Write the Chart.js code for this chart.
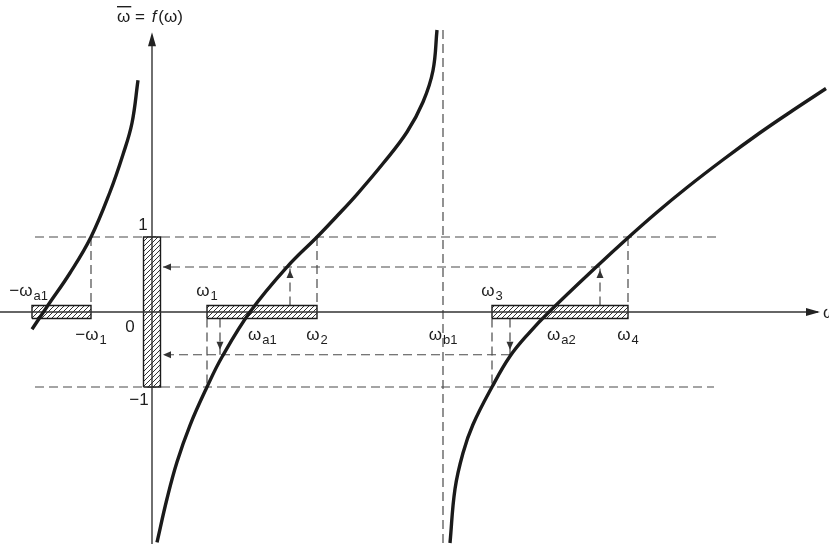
<!DOCTYPE html>
<html>
<head>
<meta charset="utf-8">
<script src="https://cdn.jsdelivr.net/npm/chart.js@4.4.0/dist/chart.umd.min.js"></script>
<style>
  body { margin: 0; background: #fff; }
  canvas { display: block; }
</style>
</head>
<body>
<canvas id="mapping-chart" width="829" height="544"></canvas>
<script>
// curve samples: omega -> f(omega)
const curveLeftW = [-1.20, -1.04, -0.82, -0.61, -0.42, -0.29, -0.20, -0.14];
const curveLeftF = [-0.23, 0.09, 0.52, 1.00, 1.60, 2.10, 2.52, 3.09];
const curveMidW = [0.05, 0.15, 0.25, 0.38, 0.55, 0.70, 0.98, 1.35, 1.65, 1.85, 2.05, 2.31, 2.55, 2.71, 2.81, 2.85];
const curveMidF = [-3.07, -2.49, -2.00, -1.51, -1.00, -0.60, 0.00, 0.60, 1.00, 1.28, 1.57, 1.98, 2.40, 2.80, 3.22, 3.76];
const curveRightW = [2.98, 3.03, 3.11, 3.21, 3.40, 3.58, 3.77, 3.97, 4.45, 4.76, 5.05, 5.35, 5.71, 6.08, 6.41, 6.74];
const curveRightF = [-3.08, -2.36, -1.88, -1.50, -1.00, -0.59, -0.28, 0.00, 0.61, 0.99, 1.33, 1.66, 2.03, 2.39, 2.69, 2.98];

// pass bands on the omega axis, and the band they map onto
const bandLeft = [-1.20, -0.61];
const bandMid = [0.55, 1.65];
const bandRight = [3.40, 4.76];
const bandImage = [-1, 1];

// special frequencies
const poleB1 = 2.91;
const levelLines = [1, -1];

// two traced mappings: band point -> curve -> f axis
const traceUpW = [1.38, 4.48];
const traceUpLevel = 0.60;
const traceDownW = [0.68, 3.58];
const traceDownLevel = -0.57;

// omega axis labels: text, subscript, omega position
const labelText = ['−ω', '−ω', 'ω', 'ω', 'ω', 'ω', 'ω', 'ω', 'ω'];
const labelSub = ['a1', '1', '1', 'a1', '2', 'b1', '3', 'a2', '4'];
const labelW = [-1.06, -0.61, 0.55, 0.98, 1.65, 2.91, 3.40, 3.97, 4.76];
const labelAbove = [true, false, true, false, false, false, true, false, false];

const X_MIN = -1.52, X_MAX = 6.77, Y_MIN = -3.093, Y_MAX = 4.16;
const INK = '#1a1a1a';
const DASH = '#4a4a4a';
const BAR_H = 0.087;   // half height of the hatched bars
const BAR_W = 0.085;   // half width of the vertical bar
const FONT = '"Liberation Sans", Arial, sans-serif';

function pts(xs, ys) {
    return xs.map((x, i) => ({ x: x, y: ys[i] }));
}

function hatch() {
    const c = document.createElement('canvas');
    c.width = 5; c.height = 5;
    const g = c.getContext('2d');
    g.fillStyle = '#fff';
    g.fillRect(0, 0, 5, 5);
    g.strokeStyle = '#333';
    g.lineWidth = 1;
    g.beginPath();
    g.moveTo(-1, 6); g.lineTo(6, -1);
    g.moveTo(-1, 1); g.lineTo(1, -1);
    g.moveTo(4, 6); g.lineTo(6, 4);
    g.stroke();
    return g.createPattern(c, 'repeat');
}
const pattern = hatch();

function curve(xs, ys) {
    return {
        data: pts(xs, ys), borderColor: INK, borderWidth: 3.4,
        tension: 0.4, order: 1
    };
}

function dashed(a, b) {
    return {
        data: [a, b], borderColor: DASH, borderWidth: 1.2,
        borderDash: [9, 5], order: 4
    };
}

function rect(x0, x1, y0, y1) {
    return {
        data: [{ x: x0, y: y0 }, { x: x1, y: y0 }, { x: x1, y: y1 }, { x: x0, y: y1 }, { x: x0, y: y0 }],
        borderColor: INK, borderWidth: 1.4, backgroundColor: pattern,
        fill: 'shape', order: 3
    };
}

const datasets = [
    curve(curveLeftW, curveLeftF),
    curve(curveMidW, curveMidF),
    curve(curveRightW, curveRightF),
    // axes
    { data: [{ x: X_MIN, y: 0 }, { x: 6.66, y: 0 }], borderColor: '#333', borderWidth: 1.4, order: 2 },
    { data: [{ x: 0, y: Y_MIN }, { x: 0, y: 3.66 }], borderColor: '#333', borderWidth: 1.4, order: 2 },
    // hatched bands
    rect(bandLeft[0], bandLeft[1], -BAR_H, BAR_H),
    rect(bandMid[0], bandMid[1], -BAR_H, BAR_H),
    rect(bandRight[0], bandRight[1], -BAR_H, BAR_H),
    rect(-BAR_W, BAR_W, bandImage[0], bandImage[1]),
    // level lines and pole
    dashed({ x: -1.17, y: levelLines[0] }, { x: 5.64, y: levelLines[0] }),
    dashed({ x: -1.17, y: levelLines[1] }, { x: 5.62, y: levelLines[1] }),
    dashed({ x: poleB1, y: 3.76 }, { x: poleB1, y: Y_MIN }),
    // band edges to the curve
    dashed({ x: bandLeft[1], y: levelLines[0] }, { x: bandLeft[1], y: BAR_H }),
    dashed({ x: bandMid[1], y: levelLines[0] }, { x: bandMid[1], y: BAR_H }),
    dashed({ x: bandRight[1], y: levelLines[0] }, { x: bandRight[1], y: BAR_H }),
    dashed({ x: bandMid[0], y: -BAR_H }, { x: bandMid[0], y: levelLines[1] }),
    dashed({ x: bandRight[0], y: -BAR_H }, { x: bandRight[0], y: levelLines[1] }),
    // traced mappings
    dashed({ x: traceUpW[1], y: traceUpLevel }, { x: 0.11, y: traceUpLevel }),
    dashed({ x: traceUpW[0], y: BAR_H }, { x: traceUpW[0], y: traceUpLevel }),
    dashed({ x: traceUpW[1], y: BAR_H }, { x: traceUpW[1], y: traceUpLevel }),
    dashed({ x: traceDownW[1], y: traceDownLevel }, { x: 0.11, y: traceDownLevel }),
    dashed({ x: traceDownW[0], y: -BAR_H }, { x: traceDownW[0], y: traceDownLevel }),
    dashed({ x: traceDownW[1], y: -BAR_H }, { x: traceDownW[1], y: traceDownLevel })
];

function arrow(ctx, x, y, dir, len, half) {
    ctx.beginPath();
    ctx.moveTo(x, y);
    if (dir === 'up') { ctx.lineTo(x - half, y + len); ctx.lineTo(x + half, y + len); }
    if (dir === 'down') { ctx.lineTo(x - half, y - len); ctx.lineTo(x + half, y - len); }
    if (dir === 'left') { ctx.lineTo(x + len, y - half); ctx.lineTo(x + len, y + half); }
    if (dir === 'right') { ctx.lineTo(x - len, y - half); ctx.lineTo(x - len, y + half); }
    ctx.closePath();
    ctx.fill();
}

function subText(ctx, x, y, text, sub, align) {
    ctx.font = '17px ' + FONT;
    const w1 = ctx.measureText(text).width;
    ctx.font = '13px ' + FONT;
    const w2 = ctx.measureText(sub).width;
    const total = w1 + w2 + 1;
    let left = x - total / 2;
    if (align === 'right') left = x - total;
    if (align === 'left') left = x;
    ctx.textAlign = 'left';
    ctx.textBaseline = 'alphabetic';
    ctx.font = '17px ' + FONT;
    ctx.fillText(text, left, y);
    ctx.font = '13px ' + FONT;
    ctx.fillText(sub, left + w1 + 1, y + 4);
}

const decorations = {
    id: 'decorations',
    afterDatasetsDraw(chart) {
        const ctx = chart.ctx;
        const sx = chart.scales.x, sy = chart.scales.y;
        const px = v => sx.getPixelForValue(v);
        const py = v => sy.getPixelForValue(v);
        ctx.save();
        ctx.fillStyle = '#222';
        // axis arrows
        arrow(ctx, px(0), py(3.73), 'up', 14, 4);
        arrow(ctx, px(6.68), py(0), 'right', 14, 4);
        // trace arrows
        ctx.fillStyle = '#333';
        arrow(ctx, px(0.11), py(traceUpLevel), 'left', 8, 3.5);
        arrow(ctx, px(0.11), py(traceDownLevel), 'left', 8, 3.5);
        traceUpW.forEach(w => arrow(ctx, px(w), py(traceUpLevel) + 3, 'up', 8, 3.5));
        traceDownW.forEach(w => arrow(ctx, px(w), py(traceDownLevel) - 5, 'down', 8, 3.5));

        // omega labels
        ctx.fillStyle = '#1e1e1e';
        labelW.forEach((w, i) => {
            const y = labelAbove[i] ? py(0) - 16 : py(0) + 28;
            let align = 'center', x = px(w);
            if (labelSub[i].startsWith('a') && w > 0) { align = 'left'; x = px(w) - 2; }
            if (w < -1) { align = 'right'; x = px(w) + 2; }
            subText(ctx, x, y, labelText[i], labelSub[i], align);
        });

        ctx.font = '17px ' + FONT;
        ctx.textBaseline = 'alphabetic';
        ctx.textAlign = 'center';
        ctx.fillText('1', px(0) - 9, py(1) - 7);
        ctx.fillText('0', px(0) - 22, py(0) + 20);
        ctx.fillText('−1', px(0) - 13, py(-1) + 18);
        ctx.textAlign = 'left';
        ctx.fillText('ω', px(6.77) - 6, py(0) + 6);

        // title: overline omega = f(omega)
        const tx = px(0) - 35, ty = 22;
        ctx.fillText('ω', tx, ty);
        const ow = ctx.measureText('ω').width;
        ctx.fillRect(tx, ty - 16, ow + 1, 1.4);
        ctx.fillText(' = ', tx + ow, ty);
        const ew = ctx.measureText(' = ').width;
        ctx.font = 'italic 17px ' + FONT;
        ctx.fillText('f', tx + ow + ew + 2, ty);
        const fw = ctx.measureText('f').width;
        ctx.font = '17px ' + FONT;
        ctx.fillText('(ω)', tx + ow + ew + fw + 4, ty);
        ctx.restore();
    }
};

const chart = new Chart(document.getElementById('mapping-chart'), {
    type: 'line',
    data: { datasets: datasets },
    options: {
        responsive: false,
        animation: false,
        layout: { padding: 0 },
        elements: { point: { radius: 0, hoverRadius: 0 }, line: { tension: 0 } },
        plugins: { legend: { display: false }, tooltip: { enabled: false } },
        scales: {
            x: { type: 'linear', min: X_MIN, max: X_MAX, display: false },
            y: { type: 'linear', min: Y_MIN, max: Y_MAX, display: false }
        }
    },
    plugins: [decorations]
});
</script>
</body>
</html>
